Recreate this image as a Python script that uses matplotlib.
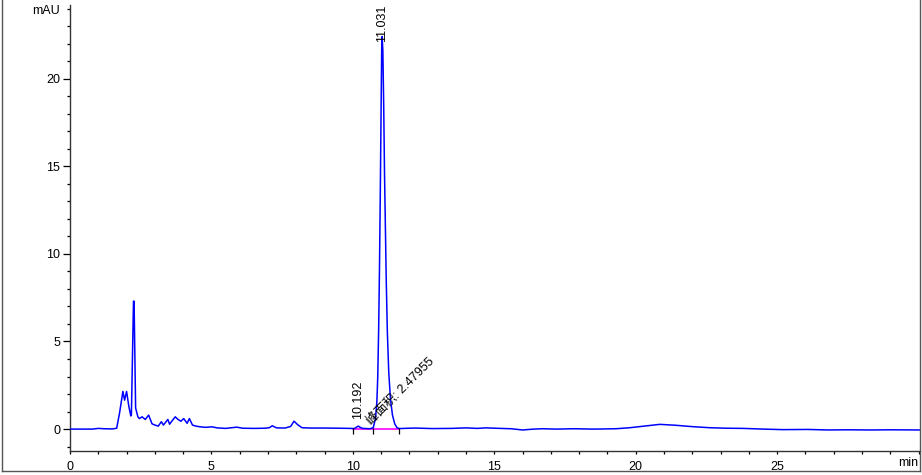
import matplotlib
matplotlib.use("Agg")
import matplotlib.pyplot as plt
from matplotlib.lines import Line2D
from matplotlib.ticker import MultipleLocator

plt.rcParams['font.family'] = ['Liberation Sans', 'Noto Sans CJK SC', 'DejaVu Sans']

# ---- data ----
time_min = [0.0, 0.8, 1.0, 1.2, 1.5, 1.65, 1.75, 1.87, 1.93, 2.0, 2.08, 2.15, 2.17,
            2.245, 2.265, 2.32, 2.4, 2.45, 2.55, 2.66, 2.78, 2.9, 3.02, 3.12, 3.23,
            3.3, 3.46, 3.52, 3.6, 3.72, 3.82, 3.92, 4.02, 4.14, 4.22, 4.33, 4.45,
            4.6, 4.8, 5.02, 5.2, 5.5, 5.9, 6.1, 6.5, 6.9, 7.05, 7.15, 7.3, 7.6,
            7.8, 7.92, 8.05, 8.2, 8.5, 9.0, 9.5, 9.9, 10.05, 10.12, 10.19, 10.26,
            10.35, 10.5, 10.6, 10.72, 10.80, 10.85, 10.88, 10.91, 10.94, 10.97,
            11.00, 11.02, 11.035, 11.06, 11.09, 11.12, 11.15, 11.18, 11.22, 11.27,
            11.33, 11.40, 11.48, 11.56, 11.65, 11.8, 12.2, 12.8, 13.5, 14.0, 14.4,
            14.7, 15.2, 15.6, 16.0, 16.4, 16.7, 17.2, 17.8, 18.5, 19.3, 19.8, 20.3,
            20.85, 21.4, 22.0, 22.6, 23.2, 23.8, 24.5, 25.2, 26.1, 26.8, 27.5,
            28.3, 29.0, 30.05]
signal_mau = [0.0, 0.0, 0.04, 0.02, 0.01, 0.05, 0.9, 2.15, 1.65, 2.15, 1.3, 0.75, 0.8,
              7.3, 7.3, 1.2, 0.7, 0.6, 0.7, 0.55, 0.8, 0.3, 0.22, 0.17, 0.42,
              0.23, 0.55, 0.28, 0.45, 0.7, 0.55, 0.45, 0.6, 0.33, 0.6, 0.23, 0.17,
              0.13, 0.1, 0.13, 0.07, 0.04, 0.11, 0.05, 0.04, 0.05, 0.08, 0.19, 0.07, 0.06,
              0.15, 0.45, 0.25, 0.08, 0.06, 0.06, 0.05, 0.04, 0.03, 0.1, 0.17, 0.1,
              0.04, 0.03, 0.02, 0.08, 0.6, 1.6, 3.0, 5.5, 9.0, 13.5,
              18.5, 21.8, 22.4, 21.6, 18.5, 14.5, 11.5, 8.5, 5.5, 3.2,
              1.7, 0.8, 0.3, 0.08, 0.03, 0.04, 0.06, 0.03, 0.04, 0.07, 0.04,
              0.07, 0.04, 0.02, -0.05, 0.0, 0.02, 0.0, 0.02, 0.0, 0.02, 0.08, 0.17,
              0.27, 0.22, 0.14, 0.08, 0.05, 0.04, 0.0, -0.03, -0.02, -0.05, -0.04,
              -0.05, -0.04, -0.05]

peak_times = [10.192, 11.031]
peak_labels = ["10.192", "11.031"]
peak_label_y = [0.6, 22.1]
integration_bounds = [9.99, 10.70, 11.62]
area_text = "峰面积: 2.47955"

x_ticks = [0, 5, 10, 15, 20, 25]
y_ticks = [0, 5, 10, 15, 20]

# ---- figure ----
W, H = 922, 475
fig = plt.figure(figsize=(W / 100, H / 100), dpi=100)
ax = fig.add_axes([70 / W, (H - 451) / H, 850 / W, 446 / H])

ax.plot(time_min, signal_mau, color='#0000ff', lw=1.1, zorder=3)

# integration baseline and peak boundary marks
ax.plot([integration_bounds[0], integration_bounds[-1]], [0, 0],
        color='#ff00ff', lw=1.2, zorder=2)
ax.vlines(integration_bounds, -0.3, 0.05, color='black', lw=0.9, zorder=4)

# peak labels
for t, lab, yy in zip(peak_times, peak_labels, peak_label_y):
    ax.text(t, yy, lab, rotation=90, ha='center', va='bottom', fontsize=9,
            color='black', zorder=5)

ax.text(10.72, 0.1, area_text, rotation=45, ha='left', va='bottom', fontsize=9,
        color='black', rotation_mode='anchor', zorder=5)

ax.set_xlim(0, 30.05)
ax.set_ylim(-1.25, 24.2)
ax.set_xticks(x_ticks)
ax.set_yticks(y_ticks)
ax.xaxis.set_minor_locator(MultipleLocator(1))
ax.yaxis.set_minor_locator(MultipleLocator(1))

for s in ['top', 'right']:
    ax.spines[s].set_visible(False)
for s in ['left', 'bottom']:
    ax.spines[s].set_linewidth(1.0)
    ax.spines[s].set_color('#333333')

ax.tick_params(axis='y', which='major', direction='out', length=5, width=0.9,
               labelsize=9, pad=2)
ax.tick_params(axis='y', which='minor', direction='out', length=2.5, width=0.9)
ax.tick_params(axis='x', which='both', direction='out', length=2.5, width=0.9,
               labelsize=9, pad=5)

ax.text(-0.012, 1.0, "mAU", transform=ax.transAxes, ha='right', va='top', fontsize=9)
ax.text(0.998, -0.027, "min", transform=ax.transAxes, ha='right', va='center', fontsize=9)

# outer frame
frame_kw = dict(color='#555555', lw=1.0, transform=fig.transFigure)
fig.add_artist(Line2D([1.5 / W, 1.5 / W], [4 / H, 1.0], **frame_kw))
fig.add_artist(Line2D([919.5 / W, 919.5 / W], [4 / H, 1.0], **frame_kw))
fig.add_artist(Line2D([1.5 / W, 919.5 / W], [4 / H, 4 / H], **frame_kw))

fig.savefig("out.png", dpi=100)
